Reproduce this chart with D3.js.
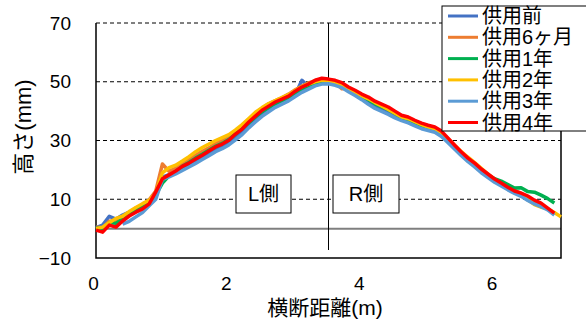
<!DOCTYPE html>
<html>
<head>
<meta charset="utf-8">
<script src="https://cdn.jsdelivr.net/npm/d3@7"></script>
<style>
  html, body { margin: 0; padding: 0; background: #fff; }
  svg { display: block; font-family: "Liberation Sans", Arial, "Noto Sans CJK JP", sans-serif; }
</style>
</head>
<body>
<svg id="chart" width="586" height="320"></svg>
<script>
// Transverse profile measurements (x in metres, height in mm), every 0.1 m
const distances = d3.range(0, 71).map(i => +(i * 0.1).toFixed(1));

const seriesNames = ["供用前", "供用6ヶ月", "供用1年", "供用2年", "供用3年", "供用4年"];
const seriesColors = ["#4472C4", "#ED7D31", "#00B050", "#FFC000", "#5B9BD5", "#FF0000"];

const before = [0.3,1.2,4.2,3.2,4.6,5.6,6.8,7.8,9.2,11.5,17.5,18.4,19.4,20.6,21.8,23.0,24.3,25.6,27.0,28.0,
  29.3,31.0,32.8,35.0,37.0,38.9,40.5,42.0,43.1,44.2,45.7,50.5,48.3,49.3,49.8,49.8,49.3,48.5,47.1,45.9,
  44.5,43.3,41.9,40.8,39.7,38.6,37.4,36.6,35.6,34.6,33.9,33.3,31.9,29.6,27.4,25.2,23.2,21.4,19.4,17.8,
  16.2,14.9,13.6,12.4,11.4,10.0,8.7,7.8,6.7,5.0,null];
const month6 = [0.5,0.3,2.5,2.8,4.0,5.5,7.0,8.2,9.8,12.8,22.0,19.5,20.6,22.3,23.5,25.0,26.3,27.5,29.0,30.2,
  31.4,33.3,35.0,37.2,39.2,41.0,42.5,43.6,44.6,45.8,47.3,48.5,49.6,50.4,50.8,50.5,49.8,47.6,47.8,46.8,
  45.5,44.3,43.0,42.0,40.8,39.5,38.0,37.4,36.5,35.5,34.6,34.0,32.7,30.3,28.0,25.8,23.6,21.8,19.9,18.3,
  16.8,15.5,14.2,13.0,12.0,10.6,9.3,8.0,6.6,5.2,null];
const year1 = [0.2,0.0,2.0,1.8,3.3,4.8,6.2,7.4,9.0,11.5,15.5,18.0,19.4,21.2,22.5,24.0,25.3,26.7,28.0,29.0,
  30.3,32.2,34.0,36.0,38.0,39.8,41.2,42.5,43.5,44.6,46.0,47.4,48.5,49.6,50.2,50.0,49.5,48.8,47.5,46.3,
  45.0,43.9,42.5,41.5,40.5,39.2,37.8,37.2,36.2,35.2,34.4,33.8,32.4,30.0,27.8,25.6,23.6,21.8,19.9,18.3,
  17.0,16.2,15.0,13.8,13.9,12.6,12.4,11.4,10.2,8.7,null];
const year2 = [0.0,0.5,2.0,3.5,4.2,5.8,7.2,8.5,9.6,12.0,19.0,20.8,21.6,23.0,24.5,26.2,27.6,28.8,30.0,31.0,
  32.0,33.6,35.4,37.5,39.6,41.2,42.6,43.6,44.6,45.6,47.0,48.3,49.2,50.0,50.5,50.2,49.6,48.6,47.4,46.4,
  45.2,44.2,42.9,41.8,40.6,39.3,38.0,37.4,36.4,35.4,34.6,34.0,32.6,30.6,28.4,26.2,24.3,22.5,20.5,18.6,
  16.7,15.0,13.5,12.3,11.3,9.8,8.2,7.3,6.8,5.5,4.0];
const year3 = [null,null,null,null,1.5,2.5,4.0,5.5,7.8,10.0,16.8,17.6,18.6,19.8,21.0,22.2,23.5,24.8,26.2,27.2,
  28.5,30.2,32.0,34.3,36.3,38.2,39.8,41.3,42.4,43.5,45.0,46.4,47.5,48.6,49.2,49.3,48.8,48.0,46.6,45.3,
  43.9,42.3,40.9,39.9,38.9,37.7,36.8,36.0,35.0,34.0,33.4,32.8,31.4,29.2,27.0,24.8,22.8,21.0,19.0,17.4,
  15.8,14.5,13.2,12.0,11.0,9.6,8.4,7.5,6.4,4.6,null];
const year4 = [-0.5,-1.2,1.2,0.5,2.6,4.3,5.6,6.7,8.4,12.5,17.0,18.3,19.6,21.2,22.3,23.7,25.0,26.4,27.8,28.8,
  30.1,32.2,33.9,36.3,38.3,40.3,41.7,43.1,44.1,45.1,46.8,48.2,49.2,50.5,51.2,50.9,50.5,49.7,48.2,47.1,
  45.8,44.8,43.4,42.4,41.4,40.0,38.6,38.0,36.9,35.9,35.2,34.6,33.2,30.8,28.4,26.1,24.0,22.3,20.3,18.6,
  16.9,15.5,14.1,12.8,12.1,11.1,9.7,8.7,7.0,5.3,null];

const seriesValues = [before, month6, year1, year2, year3, year4];

const xTicks = [0, 2, 4, 6];
const yTicks = [-10, 10, 30, 50, 70];
const gridValues = [10, 30, 50, 70];
const centerDistance = 3.5;
const sideLabels = [{ text: "L側", x0: 236, x1: 291 }, { text: "R側", x0: 333, x1: 399 }];

const svg = d3.select("#chart");
const plotLeft = 96, plotRight = 561, plotTop = 23, plotBottom = 258;

const x = d3.scaleLinear().domain([0, 7]).range([plotLeft, plotRight]);
const y = d3.scaleLinear().domain([-10, 70]).range([plotBottom, plotTop]);

// dashed horizontal gridlines
svg.append("g").selectAll("line").data(gridValues).join("line")
  .attr("x1", plotLeft).attr("x2", plotRight)
  .attr("y1", d => y(d)).attr("y2", d => y(d))
  .attr("stroke", "#000").attr("stroke-width", 1)
  .attr("stroke-dasharray", "4,3");

// zero line
svg.append("line")
  .attr("x1", plotLeft).attr("x2", plotRight)
  .attr("y1", y(0)).attr("y2", y(0))
  .attr("stroke", "#7f7f7f").attr("stroke-width", 2);

// centre line of the cross-section
svg.append("line")
  .attr("x1", x(centerDistance)).attr("x2", x(centerDistance))
  .attr("y1", plotTop).attr("y2", 250)
  .attr("stroke", "#000").attr("stroke-width", 1);

// plot frame: left, bottom, right
svg.append("path")
  .attr("d", `M${plotLeft},${plotTop}V${plotBottom}H${plotRight}V${plotTop}`)
  .attr("fill", "none").attr("stroke", "#000").attr("stroke-width", 1.5);

// side labels
sideLabels.forEach(s => {
  svg.append("rect")
    .attr("x", s.x0).attr("y", 175).attr("width", s.x1 - s.x0).attr("height", 38)
    .attr("fill", "#fff").attr("stroke", "#000").attr("stroke-width", 1);
  svg.append("text")
    .attr("x", (s.x0 + s.x1) / 2).attr("y", 201)
    .attr("text-anchor", "middle").attr("font-size", 20).attr("fill", "#000")
    .text(s.text);
});

// profile lines
const line = d3.line()
  .defined(d => d[1] !== null)
  .x(d => x(d[0]))
  .y(d => y(d[1]));

seriesValues.forEach((vals, i) => {
  svg.append("path")
    .datum(distances.map((d, j) => [d, vals[j]]))
    .attr("fill", "none")
    .attr("stroke", seriesColors[i])
    .attr("stroke-width", 3.5)
    .attr("stroke-linejoin", "round")
    .attr("d", line);
});

// axes labels
const yAxis = d3.axisLeft(y).tickValues(yTicks).tickSize(0).tickPadding(25);
const gy = svg.append("g").attr("transform", `translate(${plotLeft},0)`).call(yAxis);
gy.select(".domain").remove();
gy.selectAll("text").attr("font-size", 19).attr("fill", "#000")
  .attr("font-family", "Liberation Sans, Arial, sans-serif");

const xAxis = d3.axisBottom(x).tickValues(xTicks).tickSize(0).tickPadding(19).tickFormat(d3.format("d"));
const gx = svg.append("g").attr("transform", `translate(0,${plotBottom})`).call(xAxis);
gx.select(".domain").remove();
gx.selectAll("text").attr("font-size", 19).attr("fill", "#000").attr("dx", -3)
  .attr("font-family", "Liberation Sans, Arial, sans-serif");

svg.append("text")
  .attr("x", 325).attr("y", 315)
  .attr("text-anchor", "middle").attr("font-size", 21).attr("fill", "#000")
  .text("横断距離(m)");

svg.append("text")
  .attr("transform", "translate(31,127) rotate(-90)")
  .attr("text-anchor", "middle").attr("font-size", 22).attr("fill", "#000")
  .text("高さ(mm)");

// legend
const lg = svg.append("g");
lg.append("rect")
  .attr("x", 442).attr("y", 6).attr("width", 150).attr("height", 125)
  .attr("fill", "#fff").attr("stroke", "#000").attr("stroke-width", 1);
seriesNames.forEach((name, i) => {
  const cy = 16 + i * 21.3;
  lg.append("line")
    .attr("x1", 448).attr("x2", 478).attr("y1", cy).attr("y2", cy)
    .attr("stroke", seriesColors[i]).attr("stroke-width", 3);
  lg.append("text")
    .attr("x", 482).attr("y", cy + 7)
    .attr("font-size", 20).attr("fill", "#000")
    .text(name);
});
</script>
</body>
</html>
